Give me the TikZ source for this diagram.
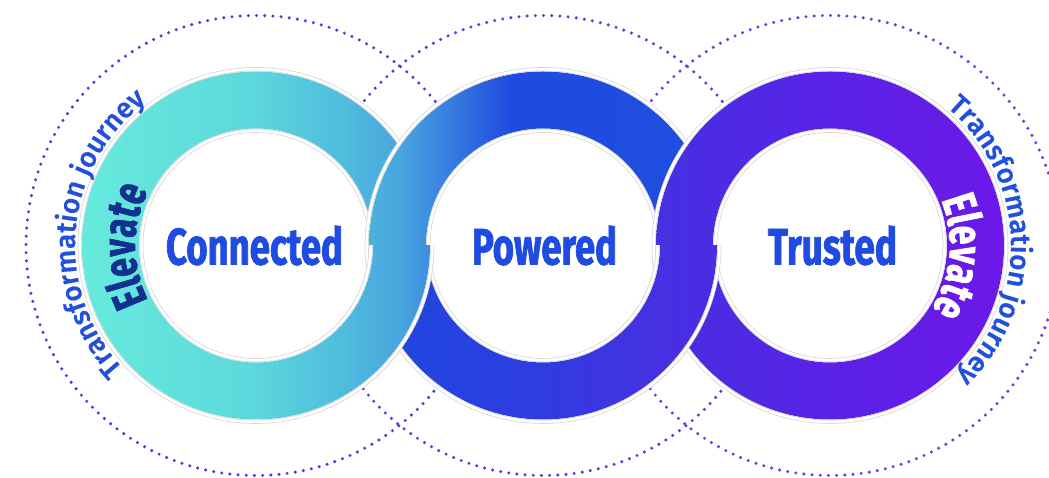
\documentclass[tikz,border=0pt]{standalone}
\usepackage{fontspec}
\usepackage{graphicx}
\usetikzlibrary{decorations.text,calc}
\newfontfamily\tjfont{Fira Sans Medium}[FakeBold=0.6]
\newfontfamily\condfont{Fira Sans}[FakeStretch=0.72, FakeBold=1.4]

\definecolor{labelblue}{HTML}{1F4BE0}
\definecolor{tjblue}{HTML}{2150DC}
\definecolor{elevnavy}{HTML}{14308F}
\definecolor{dotL}{HTML}{4A3CE2}
\definecolor{dotM}{HTML}{5A3AE2}
\definecolor{dotR}{HTML}{703CE2}
\definecolor{edgegray}{HTML}{D4D4D8}
% upper flow: left ring and top of middle ring
\definecolor{fA1}{HTML}{66EADC}
\definecolor{fA2}{HTML}{5DD8DC}
\definecolor{fA3}{HTML}{50BDDD}
\definecolor{fA4}{HTML}{48A6DE}
\definecolor{fA5}{HTML}{3478DF}
\definecolor{fA6}{HTML}{1F4BE0}
\definecolor{fA7}{HTML}{1E4EE0}
% lower flow: bottom of middle ring and right ring
\definecolor{fB1}{HTML}{1F48DF}
\definecolor{fB2}{HTML}{2E3CE1}
\definecolor{fB3}{HTML}{4630E2}
\definecolor{fB4}{HTML}{5A22E6}
\definecolor{fB5}{HTML}{6C18E8}

% x 82..717 mapped to 25..75bp
\pgfdeclarehorizontalshading{flowA}{100bp}{color(0bp)=(fA1); color(25bp)=(fA1); color(38.2bp)=(fA2); color(45.3bp)=(fA3); color(50bp)=(fA4); color(54.4bp)=(fA5); color(58.7bp)=(fA6); color(75bp)=(fA7); color(100bp)=(fA7)}
% x 369..1004 mapped to 25..75bp
\pgfdeclarehorizontalshading{flowB}{100bp}{color(0bp)=(fB1); color(25bp)=(fB1); color(38.5bp)=(fB2); color(47.6bp)=(fB3); color(61.3bp)=(fB4); color(75bp)=(fB5); color(100bp)=(fB5)}

\newcommand\ringgap[1]{%
  \draw[white, line width=8pt] (#1) circle[radius=174];
  \draw[white, line width=8pt] (#1) circle[radius=117];}
\newcommand\bandclip[1]{%
  \clip (#1) circle[radius=174] (#1) circle[radius=117];}
\newcommand\flowA{\shade[shading=flowA] (82,0) rectangle (717,478);}
\newcommand\flowB{\shade[shading=flowB] (369,0) rectangle (1004,478);}
\newcommand\ringedge[1]{%
  \draw[edgeline] (#1) circle[radius=174.6] (#1) circle[radius=116.4];
  \draw[edgeline] (#1) circle[radius=178] (#1) circle[radius=113];}

\begin{document}
\begin{tikzpicture}[x=1pt,y=1pt,
  dotline/.style={line width=3.4pt, line cap=round, dash pattern=on 0pt off 8.2pt},
  edgeline/.style={draw=edgegray, line width=0.6pt},
  centerlabel/.style={inner sep=0pt, text=labelblue, font=\condfont\bfseries}]
\useasboundingbox (0,0) rectangle (1049,478);
\fill[white] (0,0) rectangle (1049,478);

\coordinate (L) at (256,232.5);
\coordinate (M) at (543,232.5);
\coordinate (R) at (830,232.5);

% dotted orbits
\draw[dotline, draw=dotL] (L) circle[radius=230];
\draw[dotline, draw=dotM] (M) circle[radius=230];
\draw[dotline, draw=dotR] (R) circle[radius=230];

% white discs hide the orbits inside the rings
\fill[white] (L) circle[radius=178];
\fill[white] (M) circle[radius=178];
\fill[white] (R) circle[radius=178];

% left ring
\ringgap{L}
\begin{scope}[even odd rule]\bandclip{L}\flowA\end{scope}
\ringedge{L}

% middle ring
\ringgap{M}
\fill[white] (M) circle[radius=117];
\begin{scope}[even odd rule]\bandclip{M}\clip (360,232.5) rectangle (730,478);\flowA\end{scope}
\begin{scope}[even odd rule]\bandclip{M}\clip (360,0) rectangle (730,232.5);\flowB\end{scope}
\ringedge{M}

% right ring
\ringgap{R}
\fill[white] (R) circle[radius=117];
\begin{scope}[even odd rule]\bandclip{R}\flowB\end{scope}
\ringedge{R}

% left ring passes over the middle ring at the bottom
\begin{scope}
  \clip (330,0) rectangle (470,232.5);
  \ringgap{L}
  \begin{scope}[even odd rule]\bandclip{L}\flowA\end{scope}
  \ringedge{L}
\end{scope}

% middle ring passes over the right ring at the bottom
\begin{scope}
  \clip (620,0) rectangle (760,232.5);
  \ringgap{M}
  \begin{scope}[even odd rule]\bandclip{M}\flowB\end{scope}
  \ringedge{M}
\end{scope}

% centre labels
\node[centerlabel] (connected) at (254.5,232.5) {\resizebox{177pt}{39pt}{Connected}};
\node[centerlabel] (powered) at (544.5,232.5) {\resizebox{145pt}{39pt}{Powered}};
\node[centerlabel] (trusted) at (832.5,232.5) {\resizebox{129pt}{39pt}{Trusted}};

% Elevate along the bands
\path[decorate, decoration={text along path, text align=center,
  text={|\condfont\bfseries\fontsize{47}{47}\selectfont\color{elevnavy}|Elevate}}]
  ($(L)+(240:121)$) arc[start angle=240, end angle=120, radius=121];
\path[decorate, decoration={text along path, text align=center,
  text={|\condfont\bfseries\fontsize{47}{47}\selectfont\color{white}|Elevate}}]
  ($(R)+(55:120)$) arc[start angle=55, end angle=-65, radius=120];

% Transformation journey on the outer sides
\path[decorate, decoration={text along path, text align=center,
  text={|\tjfont\fontsize{28}{28}\selectfont\color{tjblue}|Transformation journey}}]
  ($(L)+(235:181)$) arc[start angle=235, end angle=115, radius=181];
\path[decorate, decoration={text along path, text align=center,
  text={|\tjfont\fontsize{28}{28}\selectfont\color{tjblue}|Transformation journey}}]
  ($(R)+(62:181)$) arc[start angle=62, end angle=-58, radius=181];
\end{tikzpicture}
\end{document}
